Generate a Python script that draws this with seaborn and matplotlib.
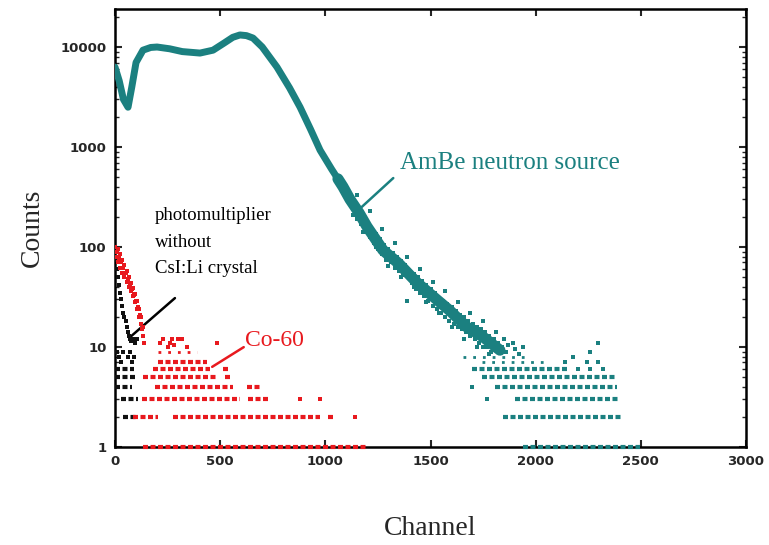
import numpy as np
import pandas as pd
import matplotlib
matplotlib.use("Agg")
import matplotlib.pyplot as plt
import seaborn as sns
from matplotlib.ticker import FixedLocator, LogLocator, NullFormatter

# ---------------- data ----------------
# AmBe neutron source: smooth part of the spectrum
ambe_curve_x = [0, 20, 40, 62, 80, 100, 133, 170, 200, 260, 320, 404, 466, 520,
                560, 594, 625, 656, 700, 770, 830, 880, 930, 975, 1030, 1084,
                1117]
ambe_curve_y = [6300, 4600, 3000, 2500, 4000, 7000, 9300, 9900, 10000, 9600,
                9000, 8700, 9300, 11000, 12500, 13200, 13000, 12300, 10000,
                6300, 3900, 2500, 1500, 930, 600, 400, 300]
# AmBe noisy tail: centre of the band
ambe_tail_x = [1060, 1084, 1117, 1160, 1198, 1274, 1350, 1436, 1520, 1593,
               1670, 1750, 1830]
ambe_tail_y = [480, 400, 300, 220, 160, 93, 68, 44, 31, 23, 16, 12.6, 9.3]

# AmBe noisy tail points
ambe_pts_x = [1120, 1130, 1140, 1150, 1160, 1170, 1180, 1190, 1200, 1210, 1220,
              1230, 1240, 1250, 1260, 1270, 1280, 1290, 1300, 1310, 1320, 1330,
              1340, 1350, 1360, 1370, 1380, 1390, 1400, 1410, 1420, 1430, 1440,
              1450, 1460, 1470, 1480, 1490, 1500, 1510, 1520, 1530, 1540, 1550,
              1560, 1570, 1580, 1590, 1600, 1610, 1620, 1630, 1640, 1650, 1660,
              1670, 1680, 1690, 1700, 1710, 1720, 1730, 1740, 1750, 1760, 1770,
              1780, 1790, 1800, 1820, 1840, 1860, 1892, 1940, 2297, 2259, 2177,
              1768, 1697, 2201, 2258, 2320, 2139, 2244, 2297, 2177,
              1150, 1180, 1210, 1240, 1270, 1300, 1330, 1360, 1390, 1420, 1450,
              1480, 1510, 1540, 1570, 1600, 1630, 1660, 1690, 1720, 1750, 1780,
              1810, 1850, 1870, 1900, 1920]
ambe_pts_y = [300, 210, 260, 190, 240, 170, 200, 140, 180, 125, 150,
              110, 135, 95, 120, 85, 105, 75, 95, 70, 88, 62,
              80, 57, 72, 52, 66, 29, 58, 44, 54, 38, 50,
              35, 46, 32, 42, 29, 38, 26, 35, 24, 31, 22,
              29, 20, 27, 18, 25, 17, 23, 16, 21, 15, 20,
              14, 18, 13, 17, 12, 16, 11, 15, 10, 14, 10,
              13, 9, 12, 11, 10, 9, 11, 10, 11, 9, 8,
              3, 4, 6, 6, 6, 7, 7, 7, 8,
              330, 140, 230, 100, 150, 65, 110, 50, 80, 40, 60,
              28, 45, 22, 36, 16, 28, 12, 22, 10, 18, 8.5,
              14, 12, 10.5, 9.5, 8.5]

# AmBe integer-count rows: level, first channel, last channel
ambe_band_level = [2, 3, 4, 5, 6, 1]
ambe_band_start = [1845, 1902, 1807, 1745, 1697, 1940]
ambe_band_end = [2415, 2401, 2386, 2386, 2149, 2496]
ambe_sparse_level = [7, 8]
ambe_sparse_start = [1745, 1655]
ambe_sparse_end = [2068, 1959]

# Co-60
co_pts_x = [0, 5, 10, 15, 20, 25, 30, 35, 40, 45, 50, 55, 60, 65, 70, 75, 80,
            85, 90, 95, 100, 105, 110, 115, 120, 125, 130, 135, 140,
            15, 25, 35, 45, 55, 65, 75, 85, 95, 105, 115, 125, 135,
            230, 260, 300, 340, 485, 250, 280, 320, 215, 270]
co_pts_y = [100, 80, 90, 70, 78, 62, 70, 55, 62, 50, 55, 45, 48, 40, 43, 36,
            38, 32, 33, 28, 29, 24, 25, 20, 21, 17, 15, 13, 11,
            95, 85, 75, 66, 58, 50, 44, 39, 34, 29, 24, 20, 16,
            12, 11, 12, 10, 11, 10, 10.5, 12, 11, 12]
co_band_level = [2, 2, 2, 3, 3, 4, 4, 5, 5, 6, 6, 7, 1]
co_band_start = [86, 276, 1013, 128, 632, 190, 627, 133, 523, 181, 515, 205, 133]
co_band_end = [205, 975, 1046, 594, 737, 561, 689, 490, 556, 452, 535, 437, 1200]
co_dot_x = [1141, 880, 975]
co_dot_y = [2, 3, 3]
co_sparse_level = [9]
co_sparse_start = [205]
co_sparse_end = [390]

# photomultiplier without crystal
pm_pts_x = [0, 5, 10, 15, 20, 25, 30, 35, 40, 45, 50, 55, 60, 65, 70, 75, 85,
            95, 105, 10, 40, 70, 20, 60, 90, 30, 80]
pm_pts_y = [95, 75, 60, 50, 42, 35, 30, 26, 22, 20, 18, 16, 14, 13, 12, 11.5,
            12, 11, 12, 9, 9, 9, 8, 8, 8, 7, 7]
pm_band_level = [6, 5, 4, 3, 2]
pm_band_start = [0, 0, 0, 30, 40]
pm_band_end = [90, 100, 80, 110, 100]

x_ticks = [0, 500, 1000, 1500, 2000, 2500, 3000]
y_ticks = [1, 10, 100, 1000, 10000]
y_ticklabels = ["1", "10", "100", "1000", "10000"]

# ---------------- styling ----------------
teal = "#1b8080"
red = "#e8191e"
black = "#111111"

sns.set_style("ticks")
plt.rcParams["font.family"] = ["DejaVu Sans"]

fig = plt.figure(figsize=(7.69, 5.45), dpi=100)
ax = fig.add_axes([115 / 769, (545 - 447) / 545, 631 / 769, 438 / 545])
ax.set_yscale("log")
ax.set_xlim(0, 3000)
ax.set_ylim(1, 24000)

def bands(levels, starts, ends, color, dash, lw=3.0):
    ax.hlines(levels, starts, ends, colors=color, linewidth=lw,
              linestyles=[dash], clip_on=False, zorder=3)

# photomultiplier
bands(pm_band_level, pm_band_start, pm_band_end, black, (0, (1.2, 0.6)))
sns.scatterplot(x=pm_pts_x, y=pm_pts_y, ax=ax, color=black, marker="s", s=7,
                linewidth=0, zorder=4)

# Co-60
bands(co_band_level, co_band_start, co_band_end, red, (0, (1.2, 0.6)))
bands(co_sparse_level, co_sparse_start, co_sparse_end, red, (0, (1, 2.5)), lw=2)
sns.scatterplot(x=co_pts_x, y=co_pts_y, ax=ax, color=red, marker="s", s=12,
                linewidth=0, zorder=4)
sns.scatterplot(x=co_dot_x, y=co_dot_y, ax=ax, color=red, marker="s", s=8,
                linewidth=0, zorder=4)

# AmBe
bands(ambe_band_level, ambe_band_start, ambe_band_end, teal, (0, (1.2, 0.6)))
bands(ambe_sparse_level, ambe_sparse_start, ambe_sparse_end, teal,
      (0, (1, 2.5)), lw=2)
sns.lineplot(x=ambe_curve_x, y=ambe_curve_y, ax=ax, color=teal, linewidth=5,
             sort=False, estimator=None, zorder=5)
sns.lineplot(x=ambe_tail_x, y=ambe_tail_y, ax=ax, color=teal, linewidth=8,
             sort=False, estimator=None, zorder=5)
sns.scatterplot(x=ambe_pts_x, y=ambe_pts_y, ax=ax, color=teal, marker="s",
                s=10, linewidth=0, zorder=5)

# ---------------- axes ----------------
for sp in ax.spines.values():
    sp.set_visible(True)
    sp.set_linewidth(1.8)
    sp.set_color("black")

ax.xaxis.set_major_locator(FixedLocator(x_ticks))
ax.yaxis.set_major_locator(FixedLocator(y_ticks))
ax.set_yticklabels(y_ticklabels)
ax.yaxis.set_minor_locator(LogLocator(base=10, subs=np.arange(2, 10)))
ax.yaxis.set_minor_formatter(NullFormatter())
ax.tick_params(axis="both", which="major", direction="in", length=5, width=1.5,
               top=True, right=True, labelsize=9.5, pad=6)
ax.tick_params(axis="both", which="minor", direction="in", length=3, width=1,
               top=True, right=True)
for lab in ax.get_xticklabels() + ax.get_yticklabels():
    lab.set_fontweight("bold")

ax.set_xlabel("Channel", family="Liberation Serif", fontsize=20, labelpad=34)
ax.set_ylabel("Counts", family="Liberation Serif", fontsize=20, labelpad=11)

# ---------------- annotations ----------------
ax.text(0.452, 0.648, "AmBe neutron source", transform=ax.transAxes,
        family="Liberation Serif", fontsize=18, color=teal, va="center",
        ha="left")
ax.plot([0.391, 0.441], [0.548, 0.614], transform=ax.transAxes, color=teal,
        lw=1.8, clip_on=False)

ax.text(0.063, 0.548, "photomultiplier\nwithout\nCsI:Li crystal",
        transform=ax.transAxes, family="Liberation Serif", fontsize=13.5,
        color="black", va="top", ha="left", linespacing=1.75)
ax.plot([0.024, 0.095], [0.251, 0.340], transform=ax.transAxes, color="black",
        lw=1.8, clip_on=False)

ax.text(0.206, 0.244, "Co-60", transform=ax.transAxes,
        family="Liberation Serif", fontsize=17, color=red, va="center",
        ha="left")
ax.plot([0.154, 0.204], [0.183, 0.228], transform=ax.transAxes, color=red,
        lw=1.8, clip_on=False)

fig.savefig("out.png", dpi=100)
